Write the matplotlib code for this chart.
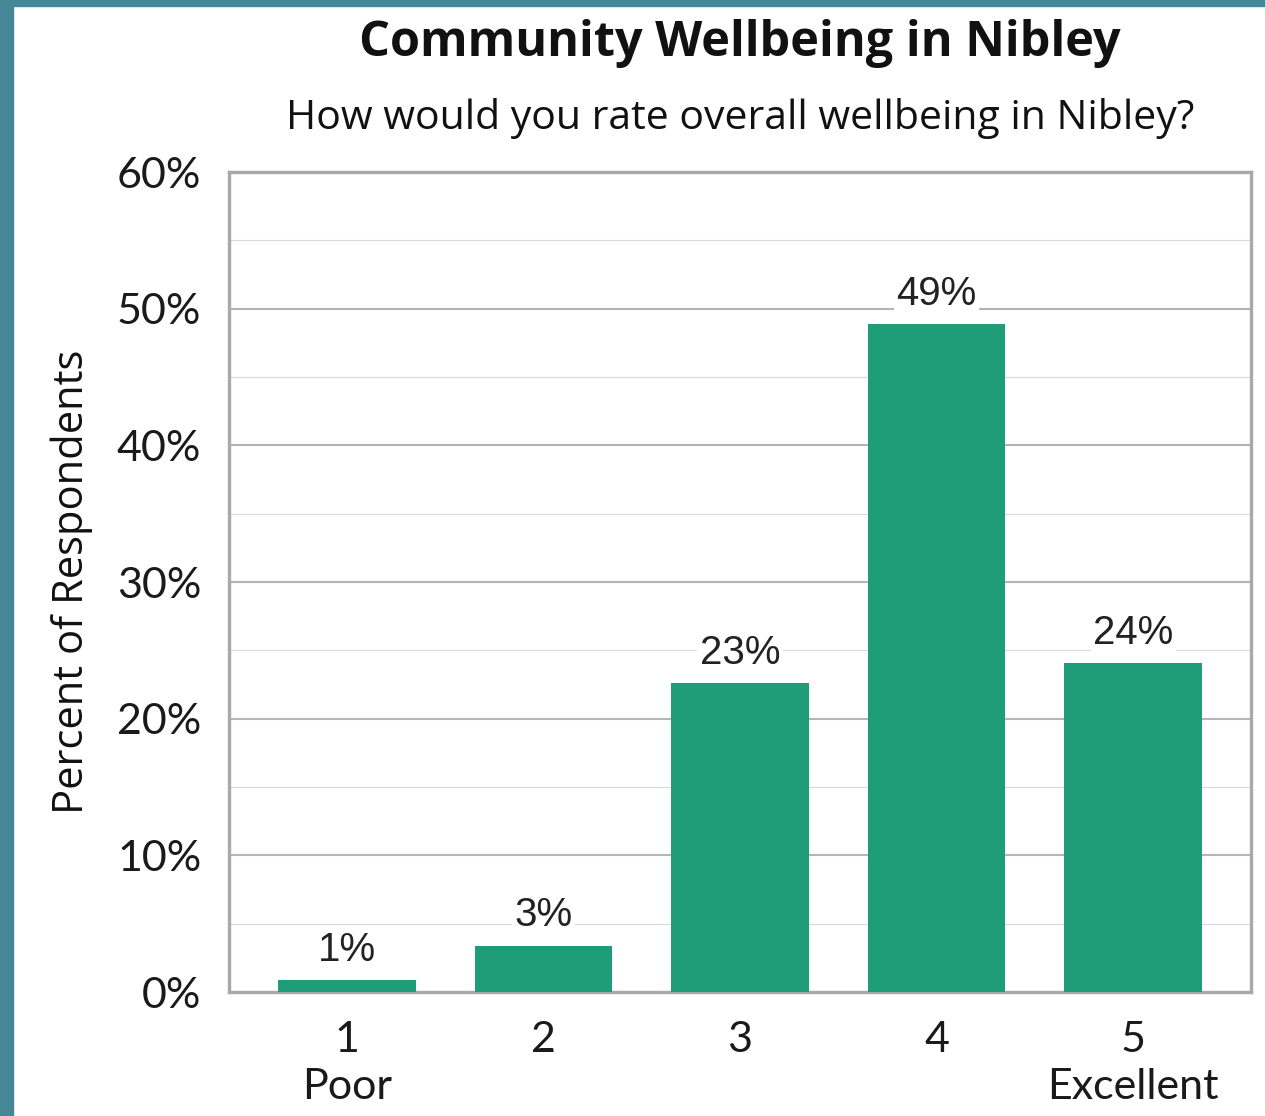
import numpy as np
import matplotlib
matplotlib.use('Agg')
import matplotlib.pyplot as plt
from matplotlib.patches import Rectangle
from matplotlib.ticker import MultipleLocator, PercentFormatter

# Donnees
categories = ["1\nPoor", "2", "3", "4", "5\nExcellent"]
values = [0.9, 3.4, 22.6, 48.9, 24.1]
value_labels = ["1%", "3%", "23%", "49%", "24%"]

TITLE = "Community Wellbeing in Nibley"
SUBTITLE = "How would you rate overall wellbeing in Nibley?"
YLABEL = "Percent of Respondents"

BAR_COLOR = '#1f9d78'
FRAME_COLOR = '#a9a9a9'

W, H = 1265, 1116
fig = plt.figure(figsize=(W / 100, H / 100), dpi=100)
fig.patch.set_facecolor('white')

# bordure teal (gauche + haut)
fig.patches.append(Rectangle((0, 0), 13 / W, 1, transform=fig.transFigure,
                             color='#448797', zorder=0))
fig.patches.append(Rectangle((0, 1 - 6 / H), 1, 6 / H, transform=fig.transFigure,
                             color='#448797', zorder=0))

ax = fig.add_axes([229 / W, 1 - 992 / H, (1251 - 229) / W, (992 - 172) / H])

x = np.arange(1, len(values) + 1)
ax.bar(x, values, width=0.70, color=BAR_COLOR, zorder=3)

for xi, v, lab in zip(x, values, value_labels):
    ax.annotate(lab, (xi, v), xytext=(0, 8), textcoords='offset points',
                ha='center', va='bottom', fontsize=29, family='Liberation Sans',
                color='#222222', zorder=4,
                bbox=dict(boxstyle='square,pad=0.06', fc='white', ec='none'))

ax.set_xlim(0.4, 5.6)
ax.set_ylim(0, 60)
ax.yaxis.set_major_locator(MultipleLocator(10))
ax.yaxis.set_minor_locator(MultipleLocator(5))
ax.yaxis.set_major_formatter(PercentFormatter(decimals=0))
ax.grid(True, axis='y', which='major', color='#b5b5b5', linewidth=1.5, zorder=1)
ax.grid(True, axis='y', which='minor', color='#dadada', linewidth=0.8, zorder=1)
ax.set_axisbelow(True)

ax.set_xticks(x)
ax.set_xticklabels(categories, family='Lato', fontsize=31, linespacing=1.3,
                   color='#1a1a1a')
for t in ax.get_yticklabels():
    t.set_family('Lato')
    t.set_fontsize(31)
    t.set_color('#1a1a1a')
ax.tick_params(axis='both', which='both', length=0)
ax.tick_params(axis='y', pad=20)
ax.tick_params(axis='x', pad=21)

for s in ax.spines.values():
    s.set_color(FRAME_COLOR)
    s.set_linewidth(2.4)

ax.set_ylabel(YLABEL, family='Open Sans', fontsize=30, labelpad=17, color='#111111')

cx = (229 + 1251) / 2 / W
fig.text(cx, 1 - 44 / H, TITLE, ha='center', va='center', family='Open Sans',
         weight='bold', fontsize=35, color='#111111')
fig.text(cx, 1 - 118 / H, SUBTITLE, ha='center', va='center', family='Open Sans',
         fontsize=29.5, color='#111111')

fig.savefig('out.png', dpi=100)
